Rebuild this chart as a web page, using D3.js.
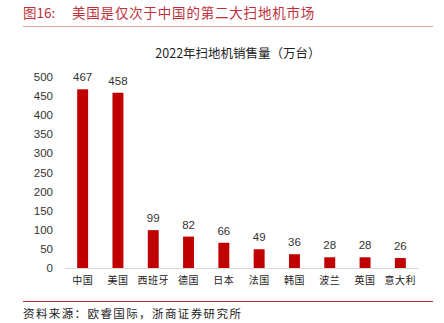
<!DOCTYPE html>
<html>
<head>
<meta charset="utf-8">
<script src="https://cdn.jsdelivr.net/npm/d3@7"></script>
<style>
  html, body { margin: 0; padding: 0; background: #fff; }
  svg { display: block; }
</style>
</head>
<body>
<svg id="chart" width="444" height="323"></svg>
<script>
// 2022 robot vacuum sales by country (10k units)
const categories = ["中国", "美国", "西班牙", "德国", "日本", "法国", "韩国", "波兰", "英国", "意大利"];
const sales = [467, 458, 99, 82, 66, 49, 36, 28, 28, 26];
const yTicks = [0, 50, 100, 150, 200, 250, 300, 350, 400, 450, 500];

const figureLabel = "图16:";
const figureTitle = "美国是仅次于中国的第二大扫地机市场";
const chartTitle = "2022年扫地机销售量（万台）";
const sourceNote = "资料来源：欧睿国际，浙商证券研究所";

const svg = d3.select("#chart");
const cjk = "'Noto Sans CJK SC', 'Noto Sans', sans-serif";
const latin = "'Liberation Sans', Arial, sans-serif";
const red = "#C00000";

// Figure heading and rule
svg.append("text")
  .attr("x", 23).attr("y", 18)
  .attr("font-family", cjk).attr("font-size", 13.5)
  .attr("fill", "#C0303A")
  .text(figureLabel);
svg.append("text")
  .attr("x", 72).attr("y", 18)
  .attr("font-family", cjk).attr("font-size", 13.5)
  .attr("letter-spacing", 0.8)
  .attr("fill", "#C0303A")
  .text(figureTitle);
svg.append("line")
  .attr("x1", 23).attr("x2", 433).attr("y1", 26.5).attr("y2", 26.5)
  .attr("stroke", "#E8A0A0").attr("stroke-width", 1);

// Chart title
svg.append("text")
  .attr("x", 238).attr("y", 58)
  .attr("text-anchor", "middle")
  .attr("font-family", cjk).attr("font-size", 12.5)
  .attr("fill", "#222")
  .text(chartTitle);

// Scales
const x = d3.scaleBand().domain(categories).range([65, 418]).paddingInner(0.69).paddingOuter(0.345);
const y = d3.scaleLinear().domain([0, 500]).range([268, 76.7]);

// Y axis labels (no line, no ticks)
const yAxis = d3.axisLeft(y).tickValues(yTicks).tickSize(0).tickPadding(0);
const yg = svg.append("g").attr("transform", "translate(53,0)").call(yAxis);
yg.select(".domain").remove();
yg.selectAll("text")
  .attr("font-family", latin).attr("font-size", 11.5).attr("fill", "#333");

// Bars
svg.append("g").selectAll("rect")
  .data(sales)
  .join("rect")
  .attr("x", (d, i) => x(categories[i]))
  .attr("y", d => y(d))
  .attr("width", x.bandwidth())
  .attr("height", d => y(0) - y(d))
  .attr("fill", red);

// Value labels
svg.append("g").selectAll("text")
  .data(sales)
  .join("text")
  .attr("x", (d, i) => x(categories[i]) + x.bandwidth() / 2)
  .attr("y", d => y(d) - 8)
  .attr("text-anchor", "middle")
  .attr("font-family", latin).attr("font-size", 11.5).attr("fill", "#333")
  .text(d => d);

// X axis baseline and category labels
const xAxis = d3.axisBottom(x).tickSize(0).tickPadding(9);
const xg = svg.append("g").attr("transform", "translate(0,268)").call(xAxis);
xg.select(".domain").attr("stroke", "#D9D9D9").attr("stroke-width", 1.2);
xg.selectAll("text")
  .attr("font-family", cjk).attr("font-size", 10).attr("letter-spacing", 0.5).attr("fill", "#222");

// Footer rule and source
svg.append("line")
  .attr("x1", 23).attr("x2", 433).attr("y1", 301.5).attr("y2", 301.5)
  .attr("stroke", "#C0303A").attr("stroke-width", 1);
svg.append("text")
  .attr("x", 23).attr("y", 318)
  .attr("font-family", cjk).attr("font-size", 11.5)
  .attr("letter-spacing", 1.4)
  .attr("fill", "#222")
  .text(sourceNote);
</script>
</body>
</html>
